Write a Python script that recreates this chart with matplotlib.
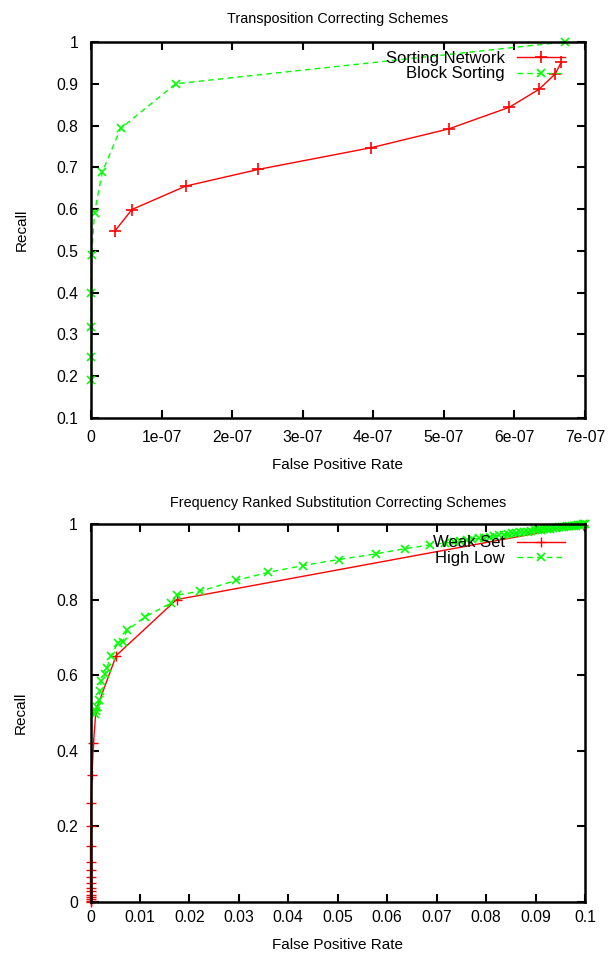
import matplotlib
matplotlib.use('Agg')
import matplotlib.pyplot as plt

plt.rcParams['font.family'] = ['Liberation Sans', 'DejaVu Sans']
plt.rcParams['font.size'] = 10

# top panel: transposition schemes (x in units of 1e-7)
sort_net_x = [0.34, 0.58, 1.34, 2.37, 3.97, 5.07, 5.93, 6.35, 6.58, 6.66]
sort_net_y = [0.548, 0.599, 0.655, 0.695, 0.747, 0.792, 0.844, 0.887, 0.924, 0.951]
block_x = [0.0, 0.0, 0.0, 0.0, 0.01, 0.05, 0.16, 0.42, 1.20, 6.71]
block_y = [0.191, 0.247, 0.319, 0.399, 0.491, 0.591, 0.689, 0.793, 0.900, 1.000]
top_xticks = [0, 1, 2, 3, 4, 5, 6, 7]
top_xlabels = ['0', '1e-07', '2e-07', '3e-07', '4e-07', '5e-07', '6e-07', '7e-07']
top_yticks = [0.1, 0.2, 0.3, 0.4, 0.5, 0.6, 0.7, 0.8, 0.9, 1.0]
top_ylabels = ['0.1', '0.2', '0.3', '0.4', '0.5', '0.6', '0.7', '0.8', '0.9', '1']

# bottom panel: frequency ranked substitution schemes
weak_x = [0, 0, 0, 0, 0, 0, 0, 0, 0, 0, 0, 0, 0.0001, 0.0001, 0.0003, 0.0006,
          0.0011, 0.0052, 0.0174, 0.0995]
weak_y = [0.0, 0.003, 0.008, 0.013, 0.019, 0.028, 0.037, 0.050, 0.066, 0.084,
          0.107, 0.147, 0.200, 0.262, 0.337, 0.420, 0.507, 0.652, 0.800, 0.998]
highlow_x = [0.0009, 0.0011, 0.0014, 0.0017, 0.0019, 0.0022, 0.0030, 0.0033, 0.0042,
             0.0055, 0.0065, 0.0074, 0.0110, 0.0163, 0.0175, 0.0222, 0.0295, 0.0359,
             0.0429, 0.0502, 0.0577, 0.0637, 0.0687,
             0.0717, 0.0735, 0.0748, 0.0762, 0.0771, 0.0785, 0.0796, 0.0808, 0.0815,
             0.0827, 0.0836, 0.0844, 0.0853, 0.0861, 0.0869, 0.0876, 0.0884, 0.0891,
             0.0898, 0.0905, 0.0911, 0.0918, 0.0924, 0.0930, 0.0936, 0.0942, 0.0948,
             0.0953, 0.0958, 0.0963, 0.0968, 0.0973, 0.0977, 0.0981, 0.0985, 0.0989,
             0.0992, 0.0995, 0.0998, 0.1000]
highlow_y = [0.498, 0.506, 0.516, 0.535, 0.557, 0.584, 0.602, 0.619, 0.652,
             0.685, 0.689, 0.719, 0.754, 0.791, 0.812, 0.822, 0.851, 0.872,
             0.890, 0.906, 0.921, 0.935, 0.945,
             0.950, 0.952, 0.955, 0.957, 0.960, 0.962, 0.964, 0.966, 0.968,
             0.970, 0.972, 0.973, 0.975, 0.976, 0.978, 0.979, 0.980, 0.982,
             0.983, 0.984, 0.985, 0.986, 0.987, 0.988, 0.989, 0.990, 0.991,
             0.992, 0.993, 0.994, 0.994, 0.995, 0.996, 0.996, 0.997, 0.998,
             0.998, 0.999, 0.999, 1.000]
bot_xticks = [0, 0.01, 0.02, 0.03, 0.04, 0.05, 0.06, 0.07, 0.08, 0.09, 0.1]
bot_xlabels = ['0', '0.01', '0.02', '0.03', '0.04', '0.05', '0.06', '0.07', '0.08', '0.09', '0.1']
bot_yticks = [0, 0.2, 0.4, 0.6, 0.8, 1.0]
bot_ylabels = ['0', '0.2', '0.4', '0.6', '0.8', '1']

red = '#ff0000'
green = '#00ff00'

fig = plt.figure(figsize=(6.12, 9.6), dpi=100)
ax1 = fig.add_axes([91 / 612, 1 - 418 / 960, 494 / 612, 376 / 960])
ax2 = fig.add_axes([90.5 / 612, 1 - 902 / 960, 494.5 / 612, 378 / 960])


def style(ax, xpad):
    for s in ax.spines.values():
        s.set_linewidth(1.8)
    ax.tick_params(direction='in', length=6, width=1.5, top=True, right=True,
                   labelsize=11.3)
    ax.tick_params(axis='x', pad=xpad)
    ax.tick_params(axis='y', pad=9)


leg_kw = dict(loc='upper right', frameon=False, markerfirst=False,
              alignment='right', handlelength=2.9, handletextpad=0.7,
              labelspacing=0.05, borderpad=0, borderaxespad=0, fontsize=12)

ax1.plot(sort_net_x, sort_net_y, '-', color=red, lw=1, marker='+', ms=8, mew=1.2,
         label='Sorting Network')
ax1.plot(block_x, block_y, '--', color=green, lw=1, marker='x', ms=6, mew=1.2,
         dashes=(4, 3), label='Block Sorting', clip_on=False)
ax1.set_xlim(0, 7)
ax1.set_ylim(0.1, 1.0)
ax1.set_xticks(top_xticks)
ax1.set_xticklabels(top_xlabels)
ax1.set_yticks(top_yticks)
ax1.set_yticklabels(top_ylabels)
ax1.set_title('Transposition Correcting Schemes', fontsize=10.4, pad=14)
ax1.set_xlabel('False Positive Rate', fontsize=11, labelpad=9)
ax1.set_ylabel('Recall', fontsize=11, labelpad=20)
style(ax1, 9)
ax1.legend(bbox_to_anchor=(0.9595, 0.977), **leg_kw)

ax2.plot(weak_x, weak_y, '-', color=red, lw=1, marker='+', ms=7, mew=1,
         label='Weak Set', clip_on=False)
ax2.plot(highlow_x, highlow_y, '--', color=green, lw=1, marker='x', ms=6, mew=1.2,
         dashes=(4, 3), label='High Low', clip_on=False)
ax2.set_xlim(0, 0.1)
ax2.set_ylim(0, 1.0)
ax2.set_xticks(bot_xticks)
ax2.set_xticklabels(bot_xlabels)
ax2.set_yticks(bot_yticks)
ax2.set_yticklabels(bot_ylabels)
ax2.set_title('Frequency Ranked Substitution Correcting Schemes', fontsize=10.4, pad=12)
ax2.set_xlabel('False Positive Rate', fontsize=11, labelpad=9)
ax2.set_ylabel('Recall', fontsize=11, labelpad=20)
style(ax2, 6)
ax2.legend(bbox_to_anchor=(0.9595, 0.970), **leg_kw)

fig.savefig('out.png', dpi=100)
